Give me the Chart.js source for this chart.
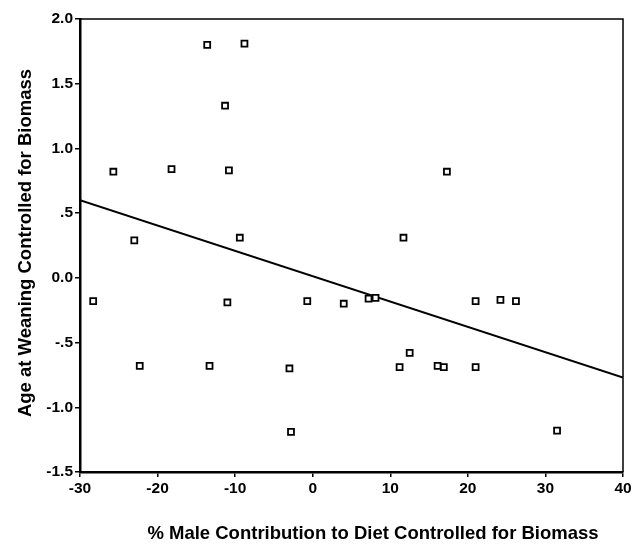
<!DOCTYPE html>
<html>
<head>
<meta charset="utf-8">
<script src="https://cdn.jsdelivr.net/npm/chart.js@4/dist/chart.umd.min.js"></script>
<style>
    html, body { margin: 0; padding: 0; background: #fff; }
    #wrap { width: 639px; height: 548px; }
</style>
</head>
<body>
<div id="wrap"><canvas id="weaningChart" width="639" height="548"></canvas></div>
<script>
// 데이터
const maleContribution = [
    -28.3, -25.7, -23.0, -22.3, -18.2, -13.6, -13.3, -11.3, -11.0, -10.8,
    -9.4, -8.8, -3.0, -2.8, -0.7, 4.0, 7.2, 8.1, 11.2, 11.7,
    12.5, 16.1, 16.9, 17.3, 21.0, 21.0, 24.2, 26.2, 31.5
];
const weaningAge = [
    -0.18, 0.82, 0.29, -0.68, 0.84, 1.80, -0.68, 1.33, -0.19, 0.83,
    0.31, 1.81, -0.70, -1.19, -0.18, -0.20, -0.16, -0.155, -0.69, 0.31,
    -0.58, -0.68, -0.69, 0.82, -0.18, -0.69, -0.17, -0.18, -1.18
];

// 회귀선 양 끝
const fitX = [-30, 40];
const fitY = [0.60, -0.77];

// 눈금
const xTickValues = [-30, -20, -10, 0, 10, 20, 30, 40];
const xTickLabels = ['-30', '-20', '-10', '0', '10', '20', '30', '40'];
const yTickValues = [-1.5, -1.0, -0.5, 0, 0.5, 1.0, 1.5, 2.0];
const yTickLabels = ['-1.5', '-1.0', '-.5', '0.0', '.5', '1.0', '1.5', '2.0'];

const xTitle = '% Male Contribution to Diet Controlled for Biomass';
const yTitle = 'Age at Weaning Controlled for Biomass';

const FONT = "'Liberation Sans', Arial, sans-serif";

// 위쪽/오른쪽 테두리 + 축 제목
const frameAndTitles = {
    id: 'frameAndTitles',
    afterDraw(chart) {
        const ctx = chart.ctx;
        const a = chart.chartArea;
        ctx.save();
        ctx.strokeStyle = '#000';
        ctx.lineWidth = 1.5;
        ctx.beginPath();
        ctx.moveTo(a.left, a.top);
        ctx.lineTo(a.right, a.top);
        ctx.lineTo(a.right, a.bottom);
        ctx.stroke();

        ctx.fillStyle = '#000';
        ctx.font = 'bold 18.5px ' + FONT;
        ctx.textAlign = 'center';
        ctx.textBaseline = 'middle';
        ctx.fillText(xTitle, 373, 534);

        ctx.translate(26, 243);
        ctx.rotate(-Math.PI / 2);
        ctx.fillText(yTitle, 0, 0);
        ctx.restore();
    }
};

new Chart(document.getElementById('weaningChart'), {
    type: 'scatter',
    data: {
        datasets: [{
            label: 'cases',
            data: maleContribution.map((x, i) => ({ x: x, y: weaningAge[i] })),
            pointStyle: 'rect',
            pointRadius: 4.2,
            borderWidth: 1.8,
            borderColor: '#000',
            backgroundColor: '#fff'
        }, {
            type: 'line',
            label: 'fit',
            data: fitX.map((x, i) => ({ x: x, y: fitY[i] })),
            borderColor: '#000',
            borderWidth: 2,
            pointRadius: 0,
            fill: false
        }]
    },
    options: {
        responsive: false,
        animation: false,
        layout: {
            padding: { top: 19, right: 16, left: 0, bottom: 0 }
        },
        scales: {
            x: {
                type: 'linear',
                min: -30,
                max: 40,
                afterFit(scale) { scale.height = 76; },
                afterBuildTicks(scale) { scale.ticks = xTickValues.map(v => ({ value: v })); },
                grid: {
                    drawOnChartArea: false,
                    drawTicks: true,
                    tickLength: 5,
                    color: '#000',
                    lineWidth: 1.5
                },
                border: { display: true, color: '#000', width: 2.5 },
                ticks: {
                    padding: 2,
                    color: '#000',
                    maxRotation: 0,
                    font: { family: FONT, size: 15.5, weight: 'bold' },
                    callback: (v, i) => xTickLabels[i]
                }
            },
            y: {
                type: 'linear',
                min: -1.5,
                max: 2.0,
                afterFit(scale) { scale.width = 80; },
                afterBuildTicks(scale) { scale.ticks = yTickValues.map(v => ({ value: v })); },
                grid: {
                    drawOnChartArea: false,
                    drawTicks: true,
                    tickLength: 5,
                    color: '#000',
                    lineWidth: 1.5
                },
                border: { display: true, color: '#000', width: 2.5 },
                ticks: {
                    padding: 2,
                    color: '#000',
                    font: { family: FONT, size: 15.5, weight: 'bold' },
                    callback: (v, i) => yTickLabels[i]
                }
            }
        },
        plugins: {
            legend: { display: false },
            tooltip: { enabled: false }
        }
    },
    plugins: [frameAndTitles]
});
</script>
</body>
</html>
